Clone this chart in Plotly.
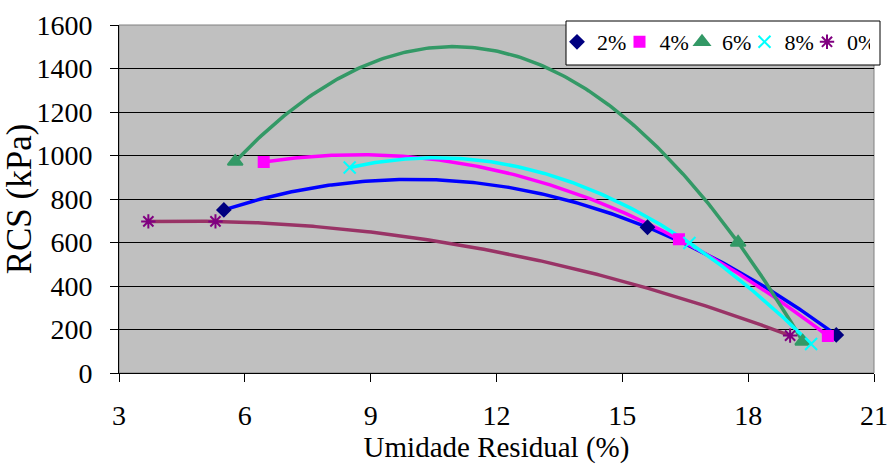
import numpy as np
import plotly.graph_objects as go

# Measured points: residual moisture (%) vs. unconfined compressive strength (kPa)
series_names = ["2%", "4%", "6%", "8%", "0%"]
umidade_2 = [5.5, 15.6, 20.1]
rcs_2 = [750, 670, 175]
umidade_4 = [6.45, 16.35, 19.9]
rcs_4 = [970, 615, 170]
umidade_6 = [5.77, 17.76, 19.3]
rcs_6 = [972, 600, 145]
umidade_8 = [8.5, 16.6, 19.5]
rcs_8 = [945, 598, 133]
umidade_0 = [3.7, 5.3, 19.0]
rcs_0 = [697, 697, 172]

x_ticks = [3, 6, 9, 12, 15, 18, 21]
y_ticks = [0, 200, 400, 600, 800, 1000, 1200, 1400, 1600]

styles = {
    "2%": dict(line="#0000FF", marker="#000080", symbol="diamond", size=10),
    "4%": dict(line="#FF00FF", marker="#FF00FF", symbol="square", size=10),
    "6%": dict(line="#339966", marker="#339966", symbol="triangle-up", size=13),
    "8%": dict(line="#00FFFF", marker="#00FFFF", symbol="x-thin-open", size=12),
    "0%": dict(line="#993366", marker="#800080", symbol="asterisk-open", size=12),
}

data = {
    "2%": (umidade_2, rcs_2),
    "4%": (umidade_4, rcs_4),
    "6%": (umidade_6, rcs_6),
    "8%": (umidade_8, rcs_8),
    "0%": (umidade_0, rcs_0),
}

fig = go.Figure()

# Second-order polynomial trendlines fitted to each series
for name in series_names:
    xs, ys = data[name]
    coef = np.polyfit(xs, ys, 2)
    xf = np.linspace(min(xs), max(xs), 200)
    fig.add_trace(go.Scatter(
        x=xf, y=np.polyval(coef, xf), mode="lines",
        line=dict(color=styles[name]["line"], width=3.5),
        showlegend=False, hoverinfo="skip"))

# Data markers
for name in series_names:
    xs, ys = data[name]
    st = styles[name]
    fig.add_trace(go.Scatter(
        x=xs, y=ys, mode="markers", name=name, cliponaxis=False,
        marker=dict(symbol=st["symbol"], size=st["size"], color=st["marker"],
                    line=dict(color=st["marker"], width=2))))

font_family = "Liberation Serif"

fig.update_layout(
    template="none",
    width=887, height=464,
    margin=dict(l=119, r=13, t=25, b=91, autoexpand=False),
    paper_bgcolor="white",
    plot_bgcolor="#C0C0C0",
    font=dict(family=font_family, size=28, color="black"),
    legend=dict(
        orientation="h",
        xref="container", yref="container",
        x=557 / 887, y=1 - 21 / 464, xanchor="left", yanchor="top",
        bgcolor="rgba(0,0,0,0)", borderwidth=0,
        font=dict(family=font_family, size=22, color="black"),
        itemwidth=30, tracegroupgap=0, entrywidth=17.5,
    ),
    xaxis=dict(
        range=[3, 21], tickvals=x_ticks, ticktext=[str(v) for v in x_ticks],
        showgrid=False, zeroline=False, automargin=False,
        showline=True, linecolor="black", linewidth=1, mirror=False,
        ticks="outside", ticklen=8, tickcolor="black", ticklabelstandoff=9,
        ticklabeloverflow="allow",
        tickfont=dict(family=font_family, size=28, color="black"),
        title=dict(text="Umidade Residual (%)", font=dict(family=font_family, size=29, color="black"), standoff=19),
    ),
    yaxis=dict(
        range=[0, 1600], tickvals=y_ticks, ticktext=[str(v) for v in y_ticks],
        showgrid=True, gridcolor="black", gridwidth=1, zeroline=False, automargin=False,
        showline=True, linecolor="black", linewidth=1,
        ticks="outside", ticklen=8, tickcolor="black", ticklabelstandoff=12,
        ticklabeloverflow="allow",
        tickfont=dict(family=font_family, size=28, color="black"),
        title=dict(text="RCS (kPa)", font=dict(family=font_family, size=35, color="black"), standoff=2),
    ),
)

# Grey frame around the plot area (top and right edges)
fig.add_shape(type="rect", xref="paper", yref="paper", x0=0, y0=0, x1=1, y1=1,
              line=dict(color="#808080", width=1), layer="below")

# Legend frame
fig.add_shape(type="rect", xref="paper", yref="paper",
              x0=(566 - 119) / 755, x1=(880 - 119) / 755,
              y0=(373 - 65) / 348, y1=(373 - 21) / 348,
              fillcolor="white", line=dict(color="black", width=1), layer="above")

fig.write_html("out.html")
